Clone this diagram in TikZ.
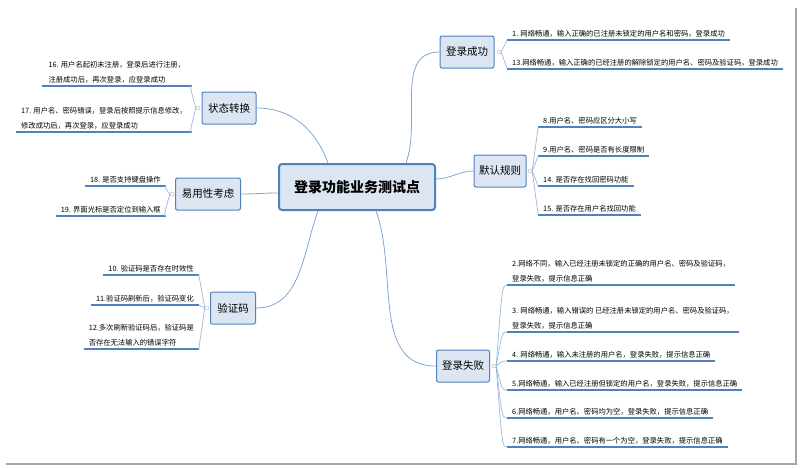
\documentclass[tikz,border=0pt]{standalone}
\usepackage{fontspec}
\setmainfont{Noto Sans CJK SC}
\definecolor{uline}{HTML}{4F81BD}
\definecolor{cline}{HTML}{7FA7D6}
\definecolor{bfill}{HTML}{DCE6F2}
\begin{document}
\begin{tikzpicture}[x=1pt,y=-1pt,
  conn/.style={draw=cline, line width=0.8pt},
  brk/.style={draw=cline!80, line width=0.7pt},
  branch/.style={draw=uline, line width=1pt, fill=bfill, rounded corners=2pt, inner sep=0pt, font=\fontsize{10.5}{12}\selectfont, minimum height=32pt},
  center/.style={draw=uline, line width=2pt, fill=bfill, rounded corners=3pt, font=\fontsize{14}{16}\selectfont\bfseries, minimum width=156pt, minimum height=46pt},
  leafR/.style={anchor=south west, align=left, inner xsep=5pt, inner ysep=3pt, font=\fontsize{7.3}{15}\selectfont,
     append after command={(\tikzlastnode.south west) edge[draw=uline, line width=2pt] (\tikzlastnode.south east)}},
  leafL/.style={leafR, anchor=south east, align=right},
  knob/.style={circle, draw=gray!60, fill=white, inner sep=0pt, minimum size=4pt}
]
\useasboundingbox (0,0) rectangle (800,467);
\draw[gray!70, line width=1.5pt] (796,8) -- (796,464) -- (6,464);
\node[center] (c) at (357,187) {登录功能业务测试点};
\node[branch, minimum width=54pt] (b1) at (467,52) {登录成功};
\node[branch, minimum width=52pt] (b2) at (500,171) {默认规则};
\node[branch, minimum width=53pt] (b3) at (463,366) {登录失败};
\node[branch, minimum width=54pt] (b4) at (229,108) {状态转换};
\node[branch, minimum width=65pt] (b5) at (208,194) {易用性考虑};
\node[branch, minimum width=45pt] (b6) at (233,308) {验证码};
\draw[conn] (c.north east) ++(-30,0) to[out=70,in=180] (b1.west);
\draw[conn] (c.east) ++(0,-8) to[out=0,in=180] (b2.west);
\draw[conn] (c.south east) ++(-60,0) to[out=-70,in=180] (b3.west);
\draw[conn] (c.north west) ++(50,0) to[out=110,in=0] (b4.east);
\draw[conn] (c.west) ++(0,6) to[out=180,in=0] (b5.east);
\draw[conn] (c.south west) ++(40,0) to[out=-110,in=0] (b6.east);
% knobs
\node[knob] (k1) at (499,52) {};
\node[knob] (k2) at (530,171) {};
\node[knob] (k3) at (494,366) {};
\node[knob] (k4) at (198,108) {};
\node[knob] (k5) at (172,194) {};
\node[knob] (k6) at (207,308) {};
% leaves right
\node[leafR] (l1) at (507,40) {1. 网络畅通，输入正确的已注册未锁定的用户名和密码，登录成功};
\node[leafR] (l13) at (507,69) {13.网络畅通，输入正确的已经注册的解除锁定的用户名、密码及验证码，登录成功};
\node[leafR] (l8) at (538,127) {8.用户名、密码应区分大小写};
\node[leafR] (l9) at (538,156) {9.用户名、密码是否有长度限制};
\node[leafR] (l14) at (538,186) {14. 是否存在找回密码功能};
\node[leafR] (l15) at (538,215) {15. 是否存在用户名找回功能};
\node[leafR] (l2) at (507,285) {2.网络不同，输入已经注册未锁定的正确的用户名、密码及验证码，\\登录失败，提示信息正确};
\node[leafR] (l3) at (507,332) {3. 网络畅通，输入错误的 已经注册未锁定的用户名、密码及验证码，\\登录失败，提示信息正确};
\node[leafR] (l4) at (507,361) {4. 网络畅通，输入未注册的用户名，登录失败，提示信息正确};
\node[leafR] (l5) at (507,390) {5.网络畅通，输入已经注册但锁定的用户名，登录失败，提示信息正确};
\node[leafR] (l6) at (507,418) {6.网络畅通，用户名、密码均为空，登录失败，提示信息正确};
\node[leafR] (l7) at (507,447) {7.网络畅通，用户名、密码有一个为空，登录失败，提示信息正确};
% leaves left
\node[leafL, align=left, minimum width=150pt] (l16) at (192,86) {16. 用户名起初未注册，登录后进行注册，\\注册成功后，再次登录，应登录成功};
\node[leafL, align=left] (l17) at (192,132) {17. 用户名、密码错误，登录后按照提示信息修改，\\修改成功后，再次登录，应登录成功};
\node[leafL] (l18) at (166,186) {18. 是否支持键盘操作};
\node[leafL] (l19) at (166,216) {19. 界面光标是否定位到输入框};
\node[leafL] (l10) at (199,275) {10. 验证码是否存在时效性};
\node[leafL] (l11) at (199,305) {11.验证码刷新后，验证码变化};
\node[leafL, align=left] (l12) at (199,349) {12.多次刷新验证码后，验证码是\\否存在无法输入的错误字符};
% brackets
\foreach \k/\l in {k1/l1,k1/l13,k2/l8,k2/l9,k2/l14,k2/l15,k3/l2,k3/l3,k3/l4,k3/l5,k3/l6,k3/l7}
  \draw[brk] (\k.east) .. controls ([xshift=6pt]\k.east |- \l.south west) .. (\l.south west);
\foreach \k/\l in {k4/l16,k4/l17,k5/l18,k5/l19,k6/l10,k6/l11,k6/l12}
  \draw[brk] (\k.west) .. controls ([xshift=-6pt]\k.west |- \l.south east) .. (\l.south east);
\end{tikzpicture}
\end{document}
